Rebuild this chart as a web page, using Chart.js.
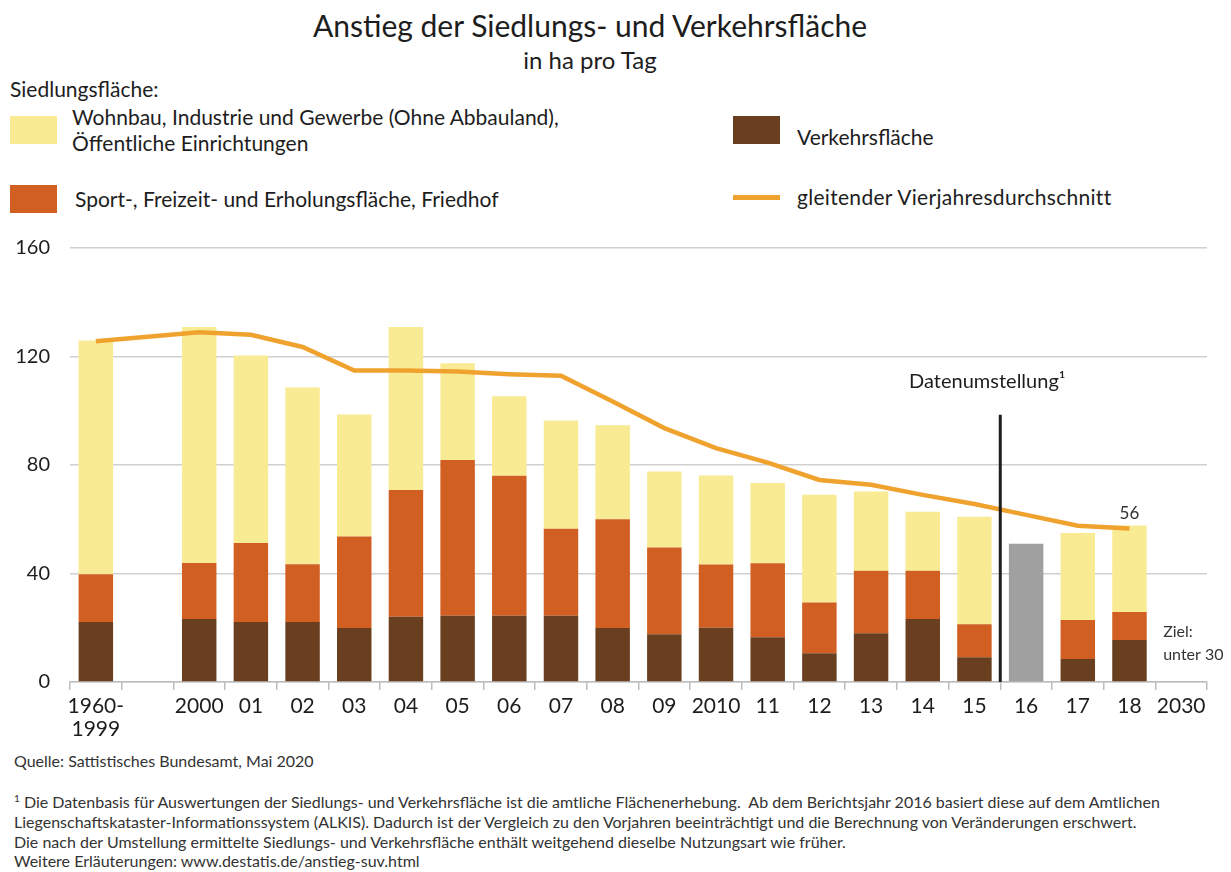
<!DOCTYPE html>
<html lang="de">
<head>
<meta charset="utf-8">
<script src="https://cdn.jsdelivr.net/npm/chart.js@4"></script>
<style>
  body { margin: 0; width: 1231px; height: 872px; background: #fff; position: relative; font-family: Lato, "Open Sans", sans-serif; color: #1d1d1d; overflow: hidden; }
  .abs { position: absolute; white-space: nowrap; }
  .box { position: absolute; width: 47px; height: 28px; }
</style>
</head>
<body>
<div class="abs" style="left:0;top:7px;width:1180px;text-align:center;font-size:30px;">Anstieg der Siedlungs- und Verkehrsfläche</div>
<div class="abs" style="left:0;top:45px;width:1180px;text-align:center;font-size:24px;">in ha pro Tag</div>

<div class="abs" style="left:10px;top:76px;font-size:21px;">Siedlungsfläche:</div>
<div class="box" style="left:10px;top:116px;background:#f8eb93;"></div>
<div class="abs" style="left:72px;top:104px;font-size:21px;line-height:26px;">Wohnbau, Industrie und Gewerbe (Ohne Abbauland),<br>Öffentliche Einrichtungen</div>
<div class="box" style="left:10px;top:185px;background:#d15f22;"></div>
<div class="abs" style="left:75px;top:186px;font-size:21px;line-height:26px;">Sport-, Freizeit- und Erholungsfläche, Friedhof</div>
<div class="box" style="left:733px;top:116px;background:#6a3f20;"></div>
<div class="abs" style="left:797px;top:124px;font-size:21px;line-height:26px;">Verkehrsfläche</div>
<div class="abs" style="left:733px;top:195px;width:47px;height:5px;background:#f0a22e;"></div>
<div class="abs" style="left:797px;top:184px;font-size:21px;line-height:26px;letter-spacing:0.3px;">gleitender Vierjahresdurchschnitt</div>

<div style="position:absolute;left:0;top:216px;width:1231px;height:532px;">
  <canvas id="chart" width="1231" height="532"></canvas>
</div>

<div class="abs" style="left:14px;top:751px;font-size:16px;color:#333;">Quelle: Sattistisches Bundesamt, Mai 2020</div>
<div class="abs" style="left:14px;top:789px;font-size:16px;line-height:19.7px;color:#333;"><sup style="font-size:10px">1</sup> Die Datenbasis für Auswertungen der Siedlungs- und Verkehrsfläche ist die amtliche Flächenerhebung.&nbsp; Ab dem Berichtsjahr 2016 basiert diese auf dem Amtlichen<br>Liegenschaftskataster-Informationssystem (ALKIS). Dadurch ist der Vergleich zu den Vorjahren beeinträchtigt und die Berechnung von Veränderungen erschwert.<br>Die nach der Umstellung ermittelte Siedlungs- und Verkehrsfläche enthält weitgehend dieselbe Nutzungsart wie früher.<br>Weitere Erläuterungen: www.destatis.de/anstieg-suv.html</div>

<script>
const categories = [["1960-", "1999"], "", "2000", "01", "02", "03", "04", "05", "06", "07", "08", "09", "2010", "11", "12", "13", "14", "15", "16", "17", "18", "2030"];
const verkehr = [22.1, null, 23.2, 22.1, 22.1, 19.9, 24.1, 24.4, 24.4, 24.4, 19.9, 17.6, 20.0, 16.5, 10.6, 18.0, 23.2, 9.1, null, 8.5, 15.5, null];
const sport = [17.6, null, 20.7, 29.1, 21.3, 33.7, 46.7, 57.4, 51.6, 32.1, 40.1, 32.0, 23.3, 27.3, 18.7, 23.0, 17.8, 12.2, null, 14.4, 10.3, null];
const wohnbau = [86.2, null, 87.0, 69.2, 65.2, 45.0, 60.1, 35.7, 29.3, 39.9, 34.7, 28.0, 32.8, 29.6, 39.7, 29.2, 21.8, 39.6, null, 32.0, 31.9, null];
const gesamt2016 = [null, null, null, null, null, null, null, null, null, null, null, null, null, null, null, null, null, null, 51.0, null, null, null];
const durchschnitt = [125.6, null, 128.9, 128.0, 123.5, 114.8, 114.8, 114.5, 113.5, 112.9, 103.4, 93.6, 86.2, 80.9, 74.5, 72.7, 69.0, 65.6, 61.6, 57.6, 56.6, null];
const yTicks = [0, 40, 80, 120, 160];

const font = "Lato, 'Open Sans', sans-serif";

// vertical marker, its label, the last average value and the 2030 goal
const notes = {
  id: "notes",
  afterDatasetsDraw(chart) {
    const ctx = chart.ctx;
    const x = chart.scales.x;
    const y = chart.scales.y;
    const xLine = (x.getPixelForValue(17) + x.getPixelForValue(18)) / 2;
    ctx.save();
    ctx.strokeStyle = "#1e1e1e";
    ctx.lineWidth = 3;
    ctx.beginPath();
    ctx.moveTo(xLine, y.getPixelForValue(98.5));
    ctx.lineTo(xLine, y.getPixelForValue(0));
    ctx.stroke();

    ctx.fillStyle = "#1d1d1d";
    ctx.textBaseline = "middle";
    ctx.textAlign = "center";
    ctx.font = "20px " + font;
    ctx.fillText("Datenumstellung¹", xLine - 13, y.getPixelForValue(110.8));

    ctx.font = "17px " + font;
    ctx.fillStyle = "#333";
    ctx.fillText("56", x.getPixelForValue(20), y.getPixelForValue(durchschnitt[20]) - 15);

    ctx.textAlign = "left";
    ctx.font = "16px " + font;
    const xGoal = x.getPixelForValue(21) - 18;
    ctx.fillText("Ziel:", xGoal, y.getPixelForValue(18.5));
    ctx.fillText("unter 30", xGoal, y.getPixelForValue(10));
    ctx.restore();
  }
};

const barStyle = { stack: "s", barPercentage: 0.667, categoryPercentage: 1, borderWidth: 0, order: 2 };

new Chart(document.getElementById("chart").getContext("2d"), {
  data: {
    labels: categories,
    datasets: [
      { type: "line", label: "gleitender Vierjahresdurchschnitt", data: durchschnitt, borderColor: "#f0a22e", borderWidth: 4.5, pointRadius: 0, spanGaps: true, tension: 0, order: 1 },
      Object.assign({ type: "bar", label: "Verkehrsfläche", data: verkehr, backgroundColor: "#6a3f20" }, barStyle),
      Object.assign({ type: "bar", label: "Sport-, Freizeit- und Erholungsfläche, Friedhof", data: sport, backgroundColor: "#d15f22" }, barStyle),
      Object.assign({ type: "bar", label: "Wohnbau, Industrie und Gewerbe", data: wohnbau, backgroundColor: "#f8eb93" }, barStyle),
      Object.assign({ type: "bar", label: "2016", data: gesamt2016, backgroundColor: "#a0a0a0" }, barStyle)
    ]
  },
  options: {
    responsive: false,
    animation: false,
    layout: { padding: { top: 10, right: 24, left: 0, bottom: 0 } },
    plugins: { legend: { display: false }, tooltip: { enabled: false } },
    scales: {
      x: {
        stacked: true,
        afterFit(scale) { scale.height = 66; },
        grid: { drawOnChartArea: false, drawTicks: true, tickLength: 8, color: "#bdbdbd", lineWidth: 1.5, offset: true },
        border: { color: "#bdbdbd", width: 1.5 },
        ticks: { autoSkip: false, maxRotation: 0, padding: 5, color: "#1d1d1d", font: { family: font, size: 21, lineHeight: 1.1 } }
      },
      y: {
        stacked: true,
        min: 0,
        max: 160,
        afterFit(scale) { scale.width = 70; },
        afterBuildTicks(scale) { scale.ticks = yTicks.map(v => ({ value: v })); },
        grid: { drawTicks: false, color: "#d0d0d0", lineWidth: 1.5 },
        border: { display: false },
        ticks: { padding: 20, color: "#1d1d1d", font: { family: font, size: 20 } }
      }
    }
  },
  plugins: [notes]
});
</script>
</body>
</html>
